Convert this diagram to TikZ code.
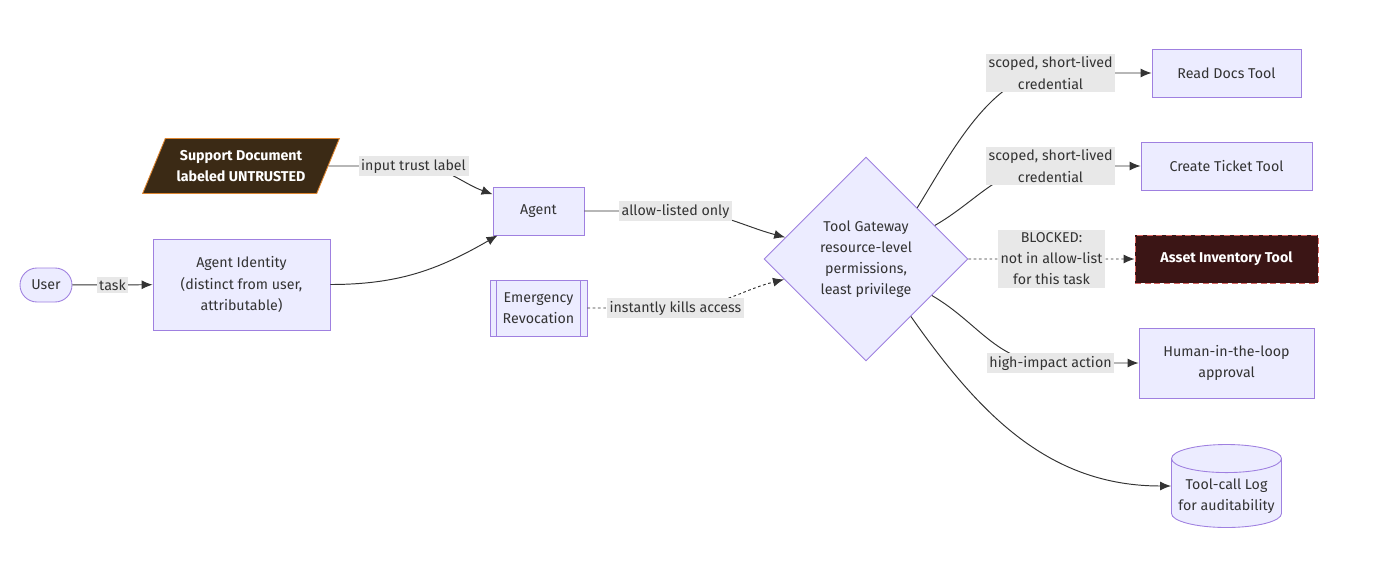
\documentclass[tikz,border=0pt]{standalone}
\usepackage{fontspec}
\setmainfont{Fira Sans}
\usetikzlibrary{shapes,shapes.geometric,shapes.misc,arrows.meta,positioning}
\usepackage{xcolor}

\definecolor{nodefill}{HTML}{ECECFF}
\definecolor{nodeline}{HTML}{9F80E0}
\definecolor{edgegray}{HTML}{333333}
\definecolor{lblbg}{HTML}{E8E8E8}
\definecolor{docfill}{HTML}{3B2A15}
\definecolor{docline}{HTML}{DD8530}
\definecolor{deniedfill}{HTML}{3B1515}
\definecolor{deniedline}{HTML}{D86460}

\begin{document}
\begin{tikzpicture}[
    font=\fontsize{8.1}{12}\selectfont,
    text=edgegray,
    node distance = 1.86cm,
    block/.style={rectangle, draw=nodeline, fill=nodefill, line width=0.5pt, align=center, minimum height=0.96cm, inner sep=2pt},
    pill/.style={block, rounded corners=3.4mm, minimum width=1.04cm, minimum height=0.68cm},
    untrusted/.style={trapezium, trapezium left angle=64, trapezium right angle=116, trapezium stretches=true, draw=docline, fill=docfill, line width=0.5pt, text=white, align=center, minimum width=3.94cm, minimum height=1.1cm, font=\fontsize{8.1}{12}\selectfont\bfseries},
    subroutine/.style={block, path picture={
        \draw[nodeline, line width=0.5pt] ([xshift=0.13cm]path picture bounding box.north west) -- ([xshift=0.13cm]path picture bounding box.south west);
        \draw[nodeline, line width=0.5pt] ([xshift=-0.13cm]path picture bounding box.north east) -- ([xshift=-0.13cm]path picture bounding box.south east);}},
    gateway/.style={diamond, aspect=1, draw=nodeline, fill=nodefill, line width=0.5pt, align=center, inner sep=0pt, minimum width=4.08cm, minimum height=4.08cm},
    denied/.style={rectangle, draw=deniedline, dash pattern=on 3.5pt off 2pt, fill=deniedfill, line width=0.5pt, text=white, minimum height=0.96cm, font=\fontsize{8.1}{12}\selectfont\bfseries},
    store/.style={cylinder, shape border rotate=90, aspect=0.26, draw=nodeline, fill=nodefill, line width=0.5pt, align=center, minimum width=2.2cm, minimum height=1.66cm},
    lbl/.style={fill=lblbg, inner sep=1.5pt, align=center},
    line/.style={draw=edgegray, line width=0.55pt, -{Latex[length=2.2mm, width=1.8mm]}},
    dotline/.style={line, dash pattern=on 1.5pt off 1.5pt}
    ]

    \useasboundingbox (0,0) rectangle (27.66,-11.46);

    % left side
    \node [pill] (user) at (0.92,-5.70) {User};
    \node [block, minimum width=3.54cm, minimum height=1.82cm] (identity) at (4.83,-5.69) {Agent Identity\\(distinct from user,\\attributable)};
    \node [untrusted] (doc) at (4.82,-3.32) {Support Document\\labeled UNTRUSTED};
    \node [block, minimum width=1.82cm] (agent) at (10.77,-4.22) {Agent};
    \node [subroutine, minimum width=1.94cm, minimum height=1.12cm] (revoke) at (10.77,-6.16) {Emergency\\Revocation};

    % gateway
    \node [gateway] (gw) at (17.32,-5.18) {Tool Gateway\\resource-level\\permissions,\\least privilege};

    % tools on the right
    \node [block, minimum width=2.98cm] (readdocs) at (24.53,-1.46) {Read Docs Tool};
    \node [block, minimum width=3.42cm, below of=readdocs] (createticket) {Create Ticket Tool};
    \node [denied, minimum width=3.66cm, below of=createticket] (asset) {Asset Inventory Tool};
    \node [block, minimum width=3.5cm, minimum height=1.4cm, below of=asset, node distance=2.08cm] (human) {Human-in-the-loop\\approval};
    \node [store, below of=human, node distance=2.46cm, anchor=shape center] (log) {Tool-call Log\\for auditability};

    % edges
    \path [line] (user) -- node [lbl] {task} (identity);
    \path [line] (doc.east) -- ++(1.7,0) node [lbl] {input trust label} to[out=0, in=160] (agent.160);
    \path [line] (identity.east) to[out=0, in=210] ([xshift=0.1cm]agent.south west);
    \path [line] (agent.east) -- ++(1.82,0) node [lbl] {allow-listed only} to[out=0, in=165] (gw.165);
    \path [dotline] (revoke.east) -- ++(1.76,0) node [lbl] {instantly kills access} to[out=0, in=194] (gw.194);

    \path [line] (gw.north east) to[out=58, in=180, looseness=0.8] ([xshift=-2.02cm]readdocs.west) -- node [lbl, pos=0] {scoped, short-lived\\credential} (readdocs.west);
    \path [line] (gw.26) to[out=30, in=180] ([xshift=-1.8cm]createticket.west) -- node [lbl, pos=0] {scoped, short-lived\\credential} (createticket.west);
    \path [dotline] (gw.east) -- node [lbl] {BLOCKED:\\not in allow-list\\for this task} (asset.west);
    \path [line] (gw.-29) to[out=-30, in=180] ([xshift=-1.76cm]human.west) -- node [lbl, pos=0] {high-impact action} (human.west);
    \path [line] (gw.-52) to[out=-55, in=180] (log.shape center -| log.west);
  \end{tikzpicture}
\end{document}
